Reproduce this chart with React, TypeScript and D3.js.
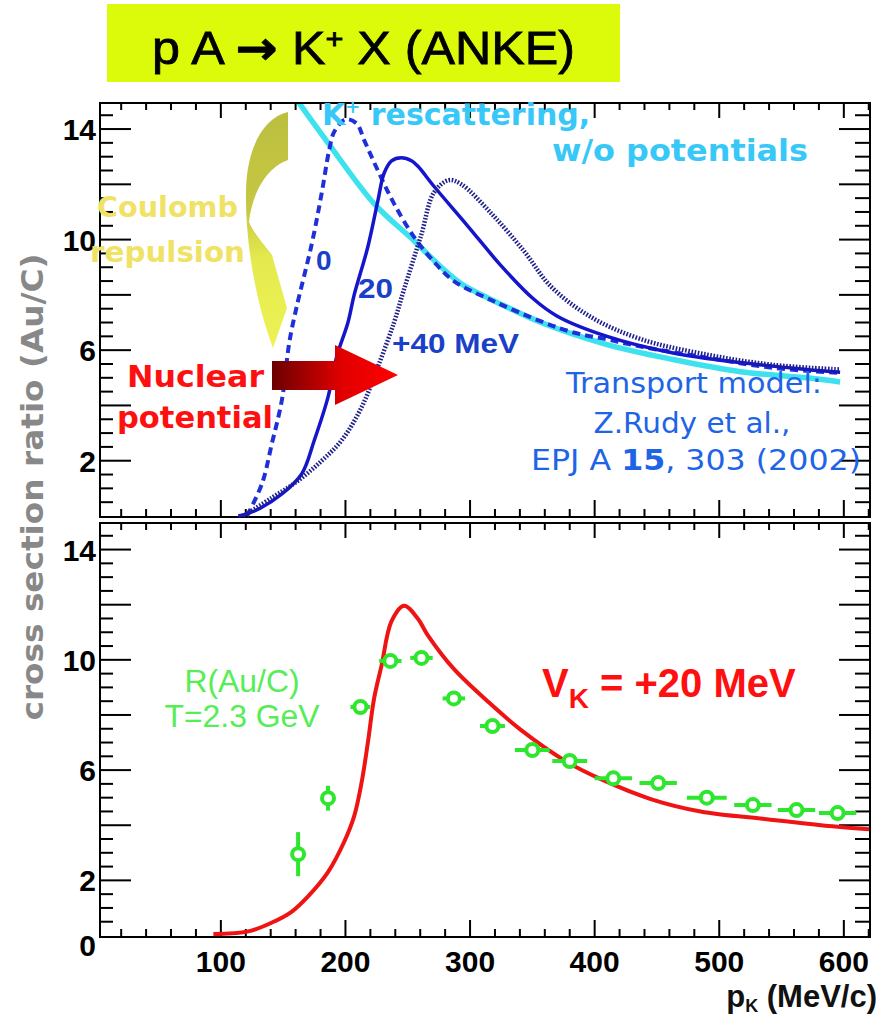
import React, { useEffect, useRef } from 'react';
import * as d3 from 'd3';

// Upper panel: transport model curves, p_K in MeV/c vs Au/C ratio
const rescatP = [158, 162, 186, 223, 255, 277, 293, 330, 357, 410, 463, 517, 570, 597];
const rescatR = [15.3, 15.0, 13.5, 11.3, 9.96, 9.0, 8.4, 7.55, 7.0, 6.2, 5.66, 5.22, 5.0, 4.85];

const pot0P = [121, 133, 141, 149, 155, 161, 173, 181, 187, 191, 200, 209, 215, 226, 239, 255, 271, 287, 319, 357, 383, 410, 437, 490, 543, 596];
const pot0R = [0.0, 1.17, 2.63, 4.2, 6.3, 7.6, 9.85, 11.7, 13.25, 13.9, 14.35, 14.2, 13.6, 12.5, 11.3, 10.1, 9.2, 8.5, 7.77, 7.04, 6.64, 6.39, 6.13, 5.73, 5.36, 5.18];

const pot20P = [114, 127, 149, 165, 175, 186, 193, 202, 207, 218, 226, 231, 237, 245, 253, 258, 271, 298, 325, 351, 370, 410, 463, 517, 570, 597];
const pot20R = [0.0, 0.18, 0.8, 1.53, 2.74, 4.3, 5.77, 7.0, 8.0, 9.74, 11.4, 12.4, 12.85, 12.96, 12.85, 12.66, 11.93, 10.5, 9.05, 7.85, 7.23, 6.5, 5.9, 5.55, 5.3, 5.2];

const pot40P = [118, 141, 162, 181, 197, 213, 226, 239, 247, 261, 271, 283, 293, 317, 343, 365, 397, 437, 490, 543, 597];
const pot40R = [0.0, 0.66, 1.28, 2.0, 2.74, 3.94, 5.4, 7.0, 8.2, 10.2, 11.7, 12.15, 12.0, 10.95, 9.6, 8.3, 7.2, 6.4, 5.84, 5.47, 5.3];

// Lower panel: V_K = +20 MeV curve and ANKE data
const fitP = [94, 122, 141, 157, 170, 186, 199, 207, 213, 218, 223, 229, 237, 247, 258, 266, 287, 314, 341, 378, 405, 445, 485, 538, 591, 621];
const fitR = [0.05, 0.15, 0.47, 0.87, 1.42, 2.3, 3.4, 4.33, 5.56, 7.0, 8.6, 9.8, 11.4, 11.96, 11.5, 10.9, 9.67, 8.5, 7.45, 6.29, 5.67, 4.95, 4.5, 4.22, 3.96, 3.85];

const dataP = [162, 186, 212, 236, 261, 287, 318, 350, 380, 415, 451, 490, 527, 562, 595];
const dataR = [2.95, 4.98, 8.29, 9.96, 10.07, 8.6, 7.6, 6.73, 6.33, 5.7, 5.53, 5.0, 4.73, 4.55, 4.44];
const dataErrP = [3, 3, 8, 9, 9, 9, 10, 14, 14, 15, 15, 16, 15, 15, 15];
const dataErrR = [0.8, 0.45, 0.2, 0.2, 0.2, 0.2, 0.2, 0.2, 0.2, 0.2, 0.2, 0.2, 0.2, 0.2, 0.2];

const xTickLabels = [100, 200, 300, 400, 500, 600];
const yTickLabelsTop = [2, 6, 10, 14];
const yTickLabelsBottom = [0, 2, 6, 10, 14];

const fontComic = "'DejaVu Sans', 'Noto Sans', sans-serif";
const fontArial = "'Liberation Sans', Arial, sans-serif";

const App = () => {
    const svgRef = useRef<SVGSVGElement | null>(null);

    useEffect(() => {
        const svg = d3.select(svgRef.current);
        svg.selectAll('*').remove();

        const left = 100, right = 870;
        const top = { y0: 103, y1: 517 };
        const bot = { y0: 523, y1: 937 };

        const x = d3.scaleLinear().domain([3, 621]).range([left, right]);
        const yTop = d3.scaleLinear().domain([0, 15]).range([516, 101.4]);
        const yBot = d3.scaleLinear().domain([0, 15]).range([935.5, 522]);

        const defs = svg.append('defs');
        defs.append('clipPath').attr('id', 'clipTop')
            .append('rect').attr('x', left + 1).attr('y', top.y0 + 1)
            .attr('width', right - left - 2).attr('height', top.y1 - top.y0 + 4);
        defs.append('clipPath').attr('id', 'clipBot')
            .append('rect').attr('x', left + 1).attr('y', bot.y0 + 1)
            .attr('width', right - left - 2).attr('height', bot.y1 - bot.y0 - 2);

        const redGrad = defs.append('linearGradient').attr('id', 'redGrad')
            .attr('gradientUnits', 'userSpaceOnUse')
            .attr('x1', 272).attr('x2', 398).attr('y1', 0).attr('y2', 0);
        redGrad.append('stop').attr('offset', 0).attr('stop-color', '#6a0000');
        redGrad.append('stop').attr('offset', 0.55).attr('stop-color', '#e00000');
        redGrad.append('stop').attr('offset', 1).attr('stop-color', '#ff0000');

        const yelGrad = defs.append('linearGradient').attr('id', 'yelGrad')
            .attr('gradientUnits', 'userSpaceOnUse')
            .attr('x1', 0).attr('x2', 0).attr('y1', 112).attr('y2', 348);
        yelGrad.append('stop').attr('offset', 0).attr('stop-color', '#bcbe3e');
        yelGrad.append('stop').attr('offset', 0.42).attr('stop-color', '#c6c844');
        yelGrad.append('stop').attr('offset', 0.62).attr('stop-color', '#e4ea4e');
        yelGrad.append('stop').attr('offset', 1).attr('stop-color', '#eef254');

        // title
        svg.append('rect').attr('x', 107).attr('y', 4).attr('width', 513).attr('height', 78).attr('fill', '#dcfb0b');
        const title = svg.append('text').attr('x', 152).attr('y', 64)
            .attr('font-family', fontArial).attr('font-size', 46).attr('fill', '#000')
            .attr('stroke', '#000').attr('stroke-width', 0.8)
            .attr('textLength', 423).attr('lengthAdjust', 'spacingAndGlyphs');
        title.append('tspan').text('p A ');
        title.append('tspan').attr('font-family', fontComic).attr('font-weight', 'bold').text('→');
        title.append('tspan').text(' K');
        title.append('tspan').attr('dy', -16).attr('font-size', 28).text('+');
        title.append('tspan').attr('dy', 16).text(' X (ANKE)');

        const drawFrame = (y: d3.ScaleLinear<number, number>, y0: number, y1: number, labels: number[]) => {
            const g = svg.append('g');
            g.append('rect').attr('x', left).attr('y', y0).attr('width', right - left).attr('height', y1 - y0)
                .attr('fill', 'none').attr('stroke', '#000').attr('stroke-width', 2);
            d3.range(1, 31).forEach(i => {
                const py = y(i * 0.5);
                if (py <= y0 + 2 || py >= y1 - 2) return;
                const major = i % 4 === 0;
                g.append('line').attr('x1', left).attr('x2', left + (major ? 31 : 13)).attr('y1', py).attr('y2', py)
                    .attr('stroke', '#000').attr('stroke-width', 2);
                g.append('line').attr('x1', right).attr('x2', right - (major ? 31 : 15)).attr('y1', py).attr('y2', py)
                    .attr('stroke', '#000').attr('stroke-width', 2);
            });
            d3.range(20, 621, 20).forEach(v => {
                const px = x(v);
                const major = v % 100 === 0;
                g.append('line').attr('x1', px).attr('x2', px).attr('y1', y1).attr('y2', y1 - (major ? 17 : 8))
                    .attr('stroke', '#000').attr('stroke-width', 2);
                g.append('line').attr('x1', px).attr('x2', px).attr('y1', y0).attr('y2', y0 + (major ? 15 : 7))
                    .attr('stroke', '#000').attr('stroke-width', 2);
            });
            labels.forEach(v => {
                g.append('text').attr('x', 96).attr('y', v === 0 ? 956 : y(v) + 11)
                    .attr('text-anchor', 'end').attr('font-family', fontArial).attr('font-weight', 'bold')
                    .attr('font-size', 30).attr('fill', '#000').text(v);
            });
            return g;
        };

        drawFrame(yTop, top.y0, top.y1, yTickLabelsTop);
        drawFrame(yBot, bot.y0, bot.y1, yTickLabelsBottom);

        const pts = (p: number[], r: number[]) => p.map((v, i) => [v, r[i]] as [number, number]);
        const lineTop = d3.line<[number, number]>().x(d => x(d[0])).y(d => yTop(d[1])).curve(d3.curveCatmullRom.alpha(0.5));
        const lineBot = d3.line<[number, number]>().x(d => x(d[0])).y(d => yBot(d[1])).curve(d3.curveCatmullRom.alpha(0.5));

        // upper panel curves
        const gTop = svg.append('g').attr('clip-path', 'url(#clipTop)');
        gTop.append('path').attr('d', lineTop(pts(rescatP, rescatR))).attr('fill', 'none')
            .attr('stroke', '#3ee2ee').attr('stroke-width', 5.5);
        gTop.append('path').attr('d', lineTop(pts(pot0P, pot0R))).attr('fill', 'none')
            .attr('stroke', '#1f30d8').attr('stroke-width', 4).attr('stroke-dasharray', '8 5');
        gTop.append('path').attr('d', lineTop(pts(pot20P, pot20R))).attr('fill', 'none')
            .attr('stroke', '#1515cc').attr('stroke-width', 3.5);
        gTop.append('path').attr('d', lineTop(pts(pot40P, pot40R))).attr('fill', 'none')
            .attr('stroke', '#20208a').attr('stroke-width', 4.5).attr('stroke-dasharray', '1.6 1.6');

        // Coulomb arrow (curved, pointing down)
        svg.append('path')
            .attr('d', 'M288,112 C262,118 247,150 246,190 C245,240 255,300 273,348 L287,308 L272,255 C262,242 253,232 249,222 C252,195 265,168 288,160 Z')
            .attr('fill', 'url(#yelGrad)');

        // nuclear potential arrow
        svg.append('path')
            .attr('d', 'M272,361 L335,361 L335,345 L398,375 L335,405 L335,390 L272,390 Z')
            .attr('fill', 'url(#redGrad)');

        const addText = (tx: number, ty: number, s: string, size: number, color: string, opts: { family?: string; weight?: string; anchor?: string; len?: number } = {}) => {
            const t = svg.append('text').attr('x', tx).attr('y', ty)
                .attr('font-family', opts.family || fontComic).attr('font-weight', opts.weight || 'bold')
                .attr('font-size', size).attr('fill', color).attr('text-anchor', opts.anchor || 'start').text(s);
            if (opts.len) t.attr('textLength', opts.len).attr('lengthAdjust', 'spacingAndGlyphs');
            return t;
        };

        const kres = svg.append('text').attr('x', 322).attr('y', 125)
            .attr('font-family', fontComic).attr('font-weight', 'bold').attr('font-size', 30).attr('fill', '#38c8f8');
        kres.append('tspan').text('K');
        kres.append('tspan').attr('dy', -12).attr('font-size', 18).text('+');
        kres.append('tspan').attr('dy', 12).text(' rescattering,');
        addText(552, 161, 'w/o potentials', 31, '#38c8f8', { len: 256 });

        addText(97, 217, 'Coulomb', 29, '#f0e264', { len: 141 });
        addText(90, 262, 'repulsion', 29, '#f0e264', { len: 155 });

        addText(127, 387, 'Nuclear', 31, '#ff1010', { len: 137 });
        addText(117, 428, 'potential', 31, '#ff1010', { len: 156 });

        addText(316, 270, '0', 28, '#1a40c8', { family: fontArial });
        addText(358, 298, '20', 28, '#1a40c8', { family: fontArial, len: 35 });
        addText(392, 353, '+40 MeV', 28, '#1a40c8', { family: fontArial, len: 127 });

        addText(694, 393, 'Transport model:', 28, '#1e64e6', { weight: 'normal', anchor: 'middle', len: 256 });
        addText(692, 433, 'Z.Rudy et al.,', 28, '#1e64e6', { weight: 'normal', anchor: 'middle', len: 197 });
        const epj = svg.append('text').attr('x', 696).attr('y', 470).attr('text-anchor', 'middle')
            .attr('font-family', fontComic).attr('font-size', 28).attr('fill', '#1e64e6')
            .attr('textLength', 330).attr('lengthAdjust', 'spacingAndGlyphs');
        epj.append('tspan').text('EPJ A ');
        epj.append('tspan').attr('font-weight', 'bold').text('15');
        epj.append('tspan').text(', 303 (2002)');

        // lower panel
        const gBot = svg.append('g').attr('clip-path', 'url(#clipBot)');
        gBot.append('path').attr('d', lineBot(pts(fitP, fitR))).attr('fill', 'none')
            .attr('stroke', '#ee1414').attr('stroke-width', 4);

        const green = '#2ee62e';
        const pointsG = gBot.selectAll('.pt').data(pts(dataP, dataR)).enter().append('g');
        pointsG.append('line')
            .attr('x1', (d, i) => x(d[0] - dataErrP[i])).attr('x2', (d, i) => x(d[0] + dataErrP[i]))
            .attr('y1', d => yBot(d[1])).attr('y2', d => yBot(d[1]))
            .attr('stroke', green).attr('stroke-width', 4);
        pointsG.append('line')
            .attr('x1', d => x(d[0])).attr('x2', d => x(d[0]))
            .attr('y1', (d, i) => yBot(d[1] - dataErrR[i])).attr('y2', (d, i) => yBot(d[1] + dataErrR[i]))
            .attr('stroke', green).attr('stroke-width', 4);
        pointsG.append('circle')
            .attr('cx', d => x(d[0])).attr('cy', d => yBot(d[1])).attr('r', 6)
            .attr('fill', '#fff').attr('stroke', green).attr('stroke-width', 4);

        addText(242, 692, 'R(Au/C)', 31, '#55ee55', { family: fontArial, weight: 'normal', anchor: 'middle', len: 115 });
        addText(242, 727, 'T=2.3 GeV', 31, '#55ee55', { family: fontArial, weight: 'normal', anchor: 'middle', len: 155 });

        const vk = svg.append('text').attr('x', 542).attr('y', 697)
            .attr('font-family', fontArial).attr('font-weight', 'bold').attr('font-size', 40).attr('fill', '#ff1010');
        vk.append('tspan').text('V');
        vk.append('tspan').attr('dy', 11).attr('font-size', 28).text('K');
        vk.append('tspan').attr('dy', -11).text(' = +20 MeV');

        // axes labels
        xTickLabels.forEach(v => {
            svg.append('text').attr('x', x(v)).attr('y', 972).attr('text-anchor', 'middle')
                .attr('font-family', fontArial).attr('font-weight', 'bold').attr('font-size', 30).attr('fill', '#000').text(v);
        });

        const xl = svg.append('text').attr('x', 877).attr('y', 1007).attr('text-anchor', 'end')
            .attr('font-family', fontArial).attr('font-weight', 'bold').attr('font-size', 31).attr('fill', '#111');
        xl.append('tspan').text('p');
        xl.append('tspan').attr('dy', 5).attr('font-size', 18).text('K');
        xl.append('tspan').attr('dy', -5).text(' (MeV/c)');

        svg.append('text').attr('transform', 'translate(43,487) rotate(-90)').attr('text-anchor', 'middle')
            .attr('font-family', fontComic).attr('font-weight', 'bold').attr('font-size', 30).attr('fill', '#888888')
            .attr('textLength', 467).attr('lengthAdjust', 'spacingAndGlyphs')
            .text('cross section ratio (Au/C)');
    }, []);

    return (
        <svg ref={svgRef} width={880} height={1019}
            style={{ position: 'absolute', left: 0, top: 0, background: '#fff' }} />
    );
};

export default App;
